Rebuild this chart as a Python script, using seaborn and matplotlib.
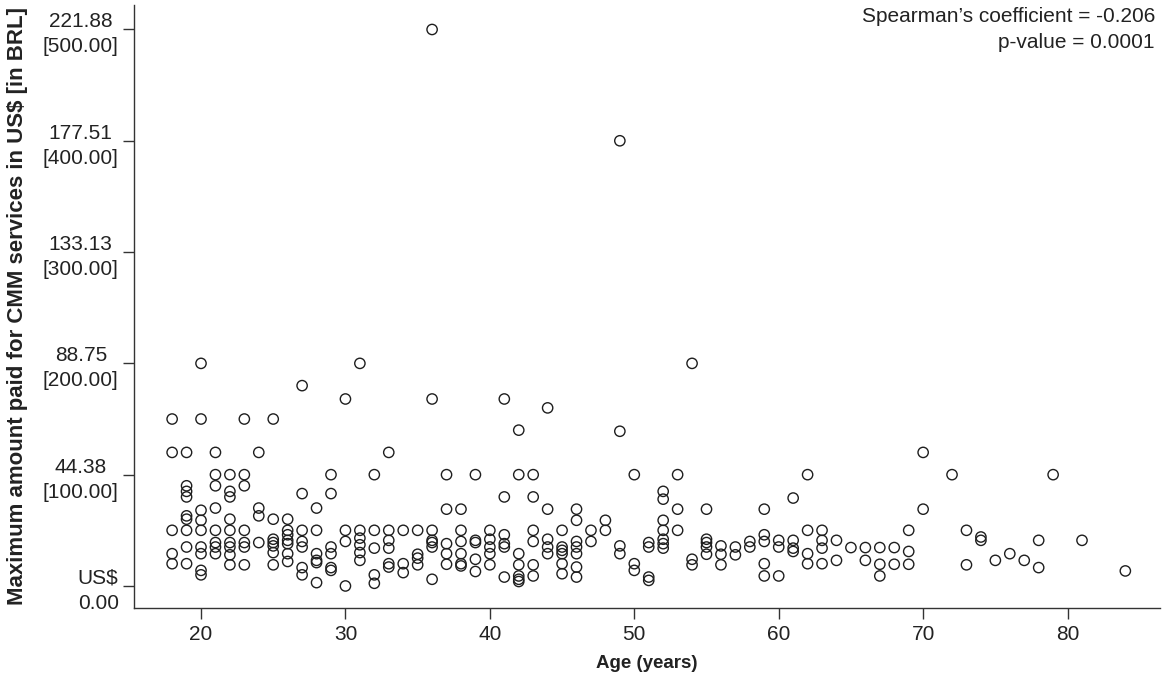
import numpy as np
import pandas as pd
import matplotlib
matplotlib.use("Agg")
import matplotlib.pyplot as plt
import seaborn as sns

# ---- data ----
age_values = [18, 19, 20, 21, 22, 23, 24, 25, 26, 27, 28, 29, 30, 31, 32, 33, 34, 35,
              36, 37, 38, 39, 40, 41, 42, 43, 44, 45, 46, 47, 48, 49, 50, 51, 52, 53,
              54, 55, 56, 57, 58, 59, 60, 61, 62, 63, 64, 65, 66, 67, 68, 69, 70, 72,
              73, 74, 75, 76, 77, 78, 79, 81, 84]
amounts_per_age = [
    [150, 120, 50, 29, 20],                      # 18
    [120, 90, 85, 80, 63, 60, 50, 35, 20],       # 19
    [200, 150, 68, 59, 50, 35, 29, 14, 10],      # 20
    [120, 100, 90, 70, 50, 39, 35, 29],          # 21
    [100, 85, 80, 60, 50, 39, 35, 28, 19],       # 22
    [150, 100, 90, 50, 39, 35, 19],              # 23
    [120, 70, 63, 39],                           # 24
    [150, 60, 42, 39, 36, 30, 19],               # 25
    [60, 50, 46, 41, 38, 29, 22],                # 26
    [180, 83, 50, 40, 35, 16.5, 10],             # 27
    [70, 50, 29, 23, 21, 3],                     # 28
    [100, 83, 35, 29, 16.5, 14],                 # 29
    [168, 50, 40, 0],                            # 30
    [200, 50, 43, 37, 30, 23],                   # 31
    [100, 50, 34, 10, 2.4],                      # 32
    [120, 50, 41, 34, 20, 17],                   # 33
    [50, 20, 12],                                # 34
    [50, 28.5, 25, 19],                          # 35
    [500, 168, 50, 41, 39, 35, 6],               # 36
    [100, 69, 38, 29, 19.5],                     # 37
    [69, 50, 40, 29, 20, 18],                    # 38
    [100, 41, 39, 24, 13],                       # 39
    [50, 42, 35, 29, 19],                        # 40
    [168, 80, 46, 38, 35, 8],                    # 41
    [140, 100, 29, 19, 9, 6, 4],                 # 42
    [100, 80, 50, 40, 19, 9],                    # 43
    [160, 69, 42, 35, 29],                       # 44
    [50, 35, 32, 29, 20, 11],                    # 45
    [69, 59, 40, 35, 29, 17, 8],                 # 46
    [50, 40],                                    # 47
    [59, 50],                                    # 48
    [400, 139, 36, 29],                          # 49
    [100, 20, 14],                               # 50
    [39, 35, 8, 5],                              # 51
    [85, 78, 59, 50, 42, 38, 34],                # 52
    [100, 69, 50],                               # 53
    [200, 24, 19],                               # 54
    [69, 42, 39, 35, 28.5],                      # 55
    [36, 28.5, 19],                              # 56
    [35, 28],                                    # 57
    [40, 35],                                    # 58
    [69, 46, 40, 20, 9],                         # 59
    [41, 35, 9],                                 # 60
    [79, 41, 34, 31],                            # 61
    [100, 50, 29, 20],                           # 62
    [50, 41, 34, 20],                            # 63
    [41, 23],                                    # 64
    [34.5],                                      # 65
    [34.5, 23],                                  # 66
    [34.5, 19.5, 9],                             # 67
    [34.5, 19.5],                                # 68
    [50, 31, 19.5],                              # 69
    [120, 69],                                   # 70
    [100],                                       # 72
    [50, 19],                                    # 73
    [44, 41],                                    # 74
    [23],                                        # 75
    [29],                                        # 76
    [23],                                        # 77
    [41, 16.5],                                  # 78
    [100],                                       # 79
    [41],                                        # 81
    [13.5],                                      # 84
]

y_tick_brl = [0, 100, 200, 300, 400, 500]
y_tick_labels = ["US$\n0.00", "44.38\n[100.00]", "88.75\n[200.00]",
                 "133.13\n[300.00]", "177.51\n[400.00]", "221.88\n[500.00]"]
x_ticks = [20, 30, 40, 50, 60, 70, 80]

spearman_text = "Spearman\u2019s coefficient = -0.206"
pvalue_text = "p-value = 0.0001"
x_label = "Age (years)"
y_label = "Maximum amount paid for CMM services in US$ [in BRL]"

ages_flat = [a for a, vals in zip(age_values, amounts_per_age) for _ in vals]
amounts_flat = [v for vals in amounts_per_age for v in vals]
df = pd.DataFrame({"age": ages_flat, "amount": amounts_flat})

# ---- style ----
sns.set_style("ticks")
plt.rcParams["font.family"] = ["Liberation Sans", "DejaVu Sans"]

fig = plt.figure(figsize=(11.62, 6.79), dpi=100)
ax = fig.add_axes([134 / 1162, 1 - 608 / 679, (1160 - 134) / 1162, (608 - 5) / 679])

ink = "#1e1e1e"
text_col = "#222222"
sns.scatterplot(data=df, x="age", y="amount", ax=ax, marker="o", s=55,
                linewidth=1.0, edgecolor=ink, legend=False)
for coll in ax.collections:
    coll.set_facecolor("none")
    coll.set_edgecolor(ink)

ax.set_xlim(15.36, 86.4)
ax.set_ylim(-19.8, 522)
ax.set_xticks(x_ticks)
ax.set_xticklabels([str(t) for t in x_ticks], fontsize=15, color=text_col)
ax.set_yticks(y_tick_brl)
ax.set_yticklabels(y_tick_labels, fontsize=15, color=text_col,
                   multialignment="center", linespacing=1.4)

ax.tick_params(axis="both", direction="out", length=8, width=1, color="#333333")
ax.tick_params(axis="y", pad=3)
ax.tick_params(axis="x", pad=4)

for side in ["top", "right"]:
    ax.spines[side].set_visible(False)
for side in ["left", "bottom"]:
    ax.spines[side].set_color("#333333")
    ax.spines[side].set_linewidth(1.0)

ax.set_xlabel(x_label, fontsize=13.5, fontweight="bold", color=text_col)
ax.set_ylabel(y_label, fontsize=16, fontweight="bold", color=text_col)
ax.xaxis.set_label_coords(0.5, (608 - 664) / 603)
ax.yaxis.set_label_coords((18 - 134) / 1026, (608 - 306) / 603)
ax.yaxis.label.set_va("center")
ax.xaxis.label.set_va("center")

fig.text(1155 / 1162, 1 - 16 / 679, spearman_text, ha="right", va="center",
         fontsize=15, color=text_col)
fig.text(1155 / 1162, 1 - 43 / 679, pvalue_text, ha="right", va="center",
         fontsize=15, color=text_col)

fig.savefig("out.png", dpi=100)
